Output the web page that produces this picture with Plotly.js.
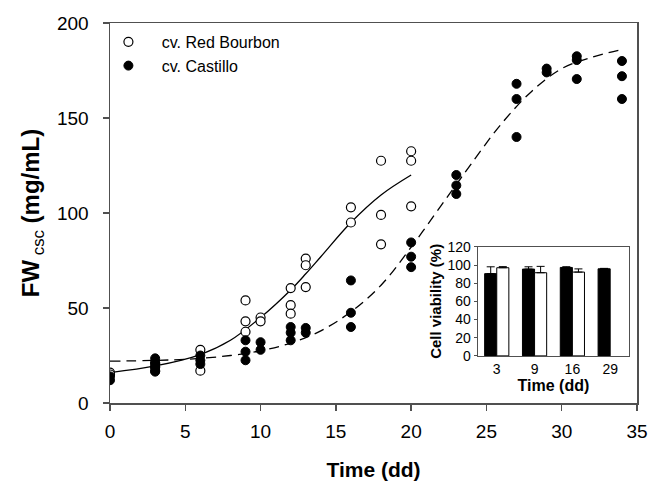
<!DOCTYPE html>
<html>
<head>
<meta charset="utf-8">
<script src="https://cdn.plot.ly/plotly-3.0.1.min.js"></script>
<style>html,body{margin:0;padding:0;background:#fff;}#chart{width:651px;height:486px;}</style>
</head>
<body>
<div id="chart"></div>
<script>
// Scatter data: cv. Red Bourbon (open circles)
const rbTime = [0,0, 3,3,3, 6,6, 9,9,9, 10,10, 12,12,12, 13,13,13, 16,16, 18,18,18, 20,20,20];
const rbFW   = [16,15, 21,19,17, 28,17, 54,43,37.5, 45,43, 60.5,51.5,47, 76,72.5,61, 103,95, 127.5,99,83.5, 132.5,127.5,103.5];
// Scatter data: cv. Castillo (filled circles)
const caTime = [0,0, 3,3,3,3, 6,6,6, 9,9,9, 10,10, 12,12,12, 13,13, 16,16,16, 20,20,20, 23,23,23, 27,27,27, 29,29, 31,31,31, 34,34,34];
const caFW   = [14,12, 23.5,21,19,16.5, 25,22.5,20.5, 33,27,22.5, 32,28, 40,37,33, 39.5,37, 64.5,47.5,40, 84.5,77,71.5, 120,114.5,110, 168,160,140, 176,174, 182.5,180.5,170.5, 180,172,160];
// Fitted curves
const rbFitT = [0,3,6,8,10,12,13,14,16,18,20];
const rbFitY = [16,19.5,25.5,33,45,59.5,68,77,95,109.5,120];
const caFitT = [0,5,8,10,12,14,16,18,20,22,23,24,26,28,30,32,34];
const caFitY = [22,23,25,27.5,31.5,38,48,62,82,104,115,126,147,164,176,182,186];
// Inset: cell viability
const viaCats = ['3','9','16','29'];
const viaCastillo = [90.5,95.5,97.3,95.8];
const viaCastilloErr = [7.5,2.5,0.8,0.5];
const viaRB = [97,91.5,92.2,null];
const viaRBErr = [1.2,7,3.5,0];
// Legend labels
const seriesNames = ['cv. Red Bourbon', 'cv. Castillo'];

const FONT = 'Liberation Sans, Arial, sans-serif';
const AX = '#505050';
const PAD = '\u00a0\u00a0\u00a0';

const traces = [
  {x: rbFitT, y: rbFitY, mode: 'lines', line: {color: '#000', width: 1.3, shape: 'spline'}, showlegend: false, hoverinfo: 'skip'},
  {x: caFitT, y: caFitY, mode: 'lines', line: {color: '#000', width: 1.3, dash: '10px,6px', shape: 'spline'}, showlegend: false, hoverinfo: 'skip'},
  {x: rbTime, y: rbFW, mode: 'markers', name: PAD + seriesNames[0],
   marker: {symbol: 'circle', size: 9, color: '#fff', line: {color: '#000', width: 1.2}}},
  {x: caTime, y: caFW, mode: 'markers', name: PAD + seriesNames[1],
   marker: {symbol: 'circle', size: 9, color: '#000', line: {color: '#000', width: 1}}},
  {type: 'bar', x: viaCats, y: viaCastillo, xaxis: 'x2', yaxis: 'y2', showlegend: false,
   marker: {color: '#000', line: {color: '#000', width: 1}},
   error_y: {type: 'data', array: viaCastilloErr, symmetric: false, arrayminus: [0,0,0,0], color: '#000', thickness: 1, width: 4}},
  {type: 'bar', x: viaCats, y: viaRB, xaxis: 'x2', yaxis: 'y2', showlegend: false,
   marker: {color: '#fff', line: {color: '#000', width: 1}},
   error_y: {type: 'data', array: viaRBErr, symmetric: false, arrayminus: [0,0,0,0], color: '#000', thickness: 1, width: 4}}
];

const layout = {
  width: 651, height: 486,
  margin: {l: 110, r: 14, t: 23, b: 83},
  paper_bgcolor: '#fff', plot_bgcolor: '#fff',
  font: {family: FONT, color: '#000'},
  showlegend: true,
  legend: {x: -0.003, y: 0.995, xanchor: 'left', yanchor: 'top', bgcolor: 'rgba(0,0,0,0)',
           font: {size: 16, family: FONT}, tracegroupgap: 0, itemwidth: 30},
  barmode: 'group', bargap: 0.36, bargroupgap: 0,
  xaxis: {range: [0, 35], tickvals: [0,5,10,15,20,25,30,35], showgrid: false, zeroline: false,
          showline: true, linecolor: AX, linewidth: 1.5, mirror: true,
          ticks: 'outside', ticklen: 6, tickcolor: AX, tickwidth: 1.5,
          tickfont: {size: 19, family: FONT}, ticklabelstandoff: 5,
          title: {text: '<b>Time (dd)</b>', font: {size: 21, family: FONT}, standoff: 21}},
  yaxis: {range: [0, 200], tickvals: [0,50,100,150,200], showgrid: false, zeroline: false,
          showline: true, linecolor: AX, linewidth: 1.5, mirror: true,
          ticks: 'outside', ticklen: 6, tickcolor: AX, tickwidth: 1.5,
          tickfont: {size: 19, family: FONT}, ticklabelstandoff: 10,
          title: {text: '<b>FW</b><sub> csc</sub><b> (mg/mL)</b>', font: {size: 24, family: FONT}, standoff: 10}},
  xaxis2: {domain: [0.698, 0.985], anchor: 'y2', type: 'category', showgrid: false, zeroline: false,
           showline: true, linecolor: AX, linewidth: 1.2, mirror: true, ticks: '',
           tickfont: {size: 14, family: FONT},
           title: {text: '<b>Time (dd)</b>', font: {size: 16, family: FONT}, standoff: 1}},
  yaxis2: {domain: [0.124, 0.411], anchor: 'x2', range: [0, 120], tickvals: [0,20,40,60,80,100,120],
           showgrid: false, zeroline: false, showline: true, linecolor: AX, linewidth: 1.2, mirror: true,
           ticks: 'outside', ticklen: 3, tickcolor: AX, tickfont: {size: 14, family: FONT},
           title: {text: '<b>Cell viability (%)</b>', font: {size: 15, family: FONT}, standoff: 2}}
};

Plotly.newPlot('chart', traces, layout, {displayModeBar: false, staticPlot: true});
</script>
</body>
</html>
